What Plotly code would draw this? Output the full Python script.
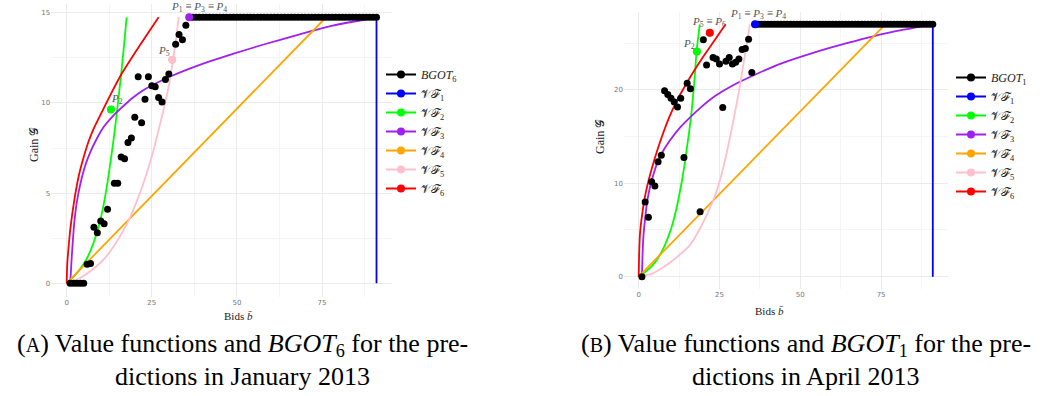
import plotly.graph_objects as go

W, H = 1048, 396

# ---------------- Panel A: January 2013 (BGOT_6) ----------------
a_max = 14.75
a_bgot_x = [1, 2, 3, 4, 5, 6, 7, 8, 9, 10, 11, 12, 13, 14, 15, 16, 17, 18, 19, 20,
            21, 22, 23, 24, 25, 26, 27, 28, 29, 30, 31, 32, 33, 34, 35] + list(range(36, 92))
a_bgot_y = [0, 0, 0, 0, 0, 1.05, 1.1, 3.1, 2.8, 3.45, 3.3, 4.1, 9.63, 5.55, 5.55, 7.0, 6.9, 7.8, 8.05, 9.2,
            11.45, 8.9, 10.2, 11.45, 10.95, 10.9, 10.3, 10.05, 11.3, 11.6, 12.4, 13.25, 13.8, 13.5, 14.3] + [a_max] * 56

a_vf1_x = [91, 91]
a_vf1_y = [0, a_max]
a_vf2_x = [0, 2, 4, 6, 8, 10, 11, 12, 13, 14, 15, 16, 17, 17.6]
a_vf2_y = [0, 0.35, 0.8, 1.4, 2.3, 3.6, 4.5, 5.6, 6.9, 8.3, 9.9, 11.6, 13.5, 14.75]
a_vf3_x = [1.0, 1.2, 1.4, 1.75, 2.2, 2.9, 4, 5.4, 7, 8.8, 11, 13.7, 16.5, 19.5, 22.5, 26.4, 30.3,
           36.1, 42, 48.8, 58.6, 68.4, 78.1, 91]
a_vf3_y = [0, 0.5, 1.2, 2.2, 3.3, 4.4, 5.5, 6.5, 7.3, 8.0, 8.7, 9.3, 9.8, 10.3, 10.7, 11.1, 11.45,
           11.9, 12.3, 12.72, 13.28, 13.8, 14.28, 14.75]
a_vf4_x = [0, 76.2]
a_vf4_y = [0, 14.75]
a_vf5_x = [0, 3.5, 6.8, 10, 12.7, 15.5, 18.1, 21.5, 23.5, 25.4, 27, 28.3, 29.4, 30.3, 31.0, 32.2, 32.9]
a_vf5_y = [0, 0.25, 0.65, 1.15, 1.75, 2.55, 3.45, 5.0, 6.1, 7.3, 8.5, 9.5, 10.4, 11.25, 12.1, 13.65, 14.75]
a_vf6_x = [0, 0.15, 0.5, 1.0, 1.6, 2.4, 3.6, 5, 6.5, 8, 9.8, 13, 16.1, 21.5, 27.0]
a_vf6_y = [0, 1.0, 1.9, 2.9, 3.8, 4.8, 6.0, 7.0, 7.9, 8.6, 9.3, 10.5, 11.6, 13.2, 14.75]

a_pts = [  # (x, y, color, label, label_x, label_y)
    (13, 9.63, "#00FF00", "<i>P</i><sub>2</sub>", 14.9, 10.2),
    (31, 12.4, "#FFC0CB", "<i>P</i><sub>5</sub>", 28.7, 12.9),
    (36, 14.75, "#A020F0", "<i>P</i><sub>1</sub> ≡ <i>P</i><sub>3</sub> ≡ <i>P</i><sub>4</sub>", 39.0, 15.3),
]

# ---------------- Panel B: April 2013 (BGOT_1) ----------------
b_max = 27.0
b_bgot_x = [1, 2, 3, 4, 5, 6, 7, 8, 9, 10, 11, 12, 13, 14, 15, 16, 18, 19, 20,
            21, 22, 23, 24, 25, 26, 27, 28, 29, 30, 31, 32, 33, 34, 35] + list(range(36, 92))
b_bgot_y = [0, 8.0, 6.35, 10.15, 9.7, 12.3, 13.0, 19.9, 19.5, 19.1, 18.7, 18.15, 19.1, 12.75, 20.7, 20.1, 24.1, 6.95, 25.35,
            22.65, 26.1, 23.45, 23.3, 22.75, 18.1, 23.05, 23.45, 22.75, 22.95, 23.3, 24.3, 24.4, 25.4, 21.85] + [b_max] * 56

b_vf1_x = [91, 91]
b_vf1_y = [0, b_max]
b_vf2_x = [0, 2, 4, 6, 8, 10, 11, 12, 13.3, 14.2, 15, 15.8, 16.4, 17, 17.4, 17.9, 18.4, 18.9]
b_vf2_y = [0, 0.5, 1.1, 2.0, 3.3, 5.1, 6.3, 7.8, 10.1, 12.0, 14.0, 16.0, 17.8, 20.0, 21.7, 24.1, 25.6, 27.0]
b_vf3_x = [1.0, 1.2, 1.5, 1.95, 2.6, 3.5, 4.7, 6.1, 7.8, 9.7, 12.5, 15.9, 19.5, 23.1, 27, 31.3, 37.5,
           44, 54, 64.4, 72.6, 82, 91]
b_vf3_y = [0, 2.5, 4.5, 6.1, 8.0, 9.6, 11.1, 12.5, 13.6, 14.6, 15.85, 17.05, 18.2, 19.2, 20.05, 20.85, 21.85,
           22.8, 23.95, 24.98, 25.72, 26.42, 27.0]
b_vf4_x = [0, 76.3]
b_vf4_y = [0, 27.0]
b_vf5_x = [0, 4, 7.6, 11.5, 15.9, 19.5, 23.1, 25.3, 27.2, 28.9, 30.3, 31.5, 32.4, 33.5, 34.4]
b_vf5_y = [0, 0.3, 1.0, 2.0, 3.4, 5.5, 8.2, 10.5, 13.2, 16, 18.5, 20.8, 22.8, 25, 27.0]
b_vf6_x = [0, 0.1, 0.4, 1.0, 1.95, 3, 4.5, 6, 7.6, 9.5, 11.8, 14.5, 17, 20, 23, 26.9]
b_vf6_y = [0, 2.0, 4.6, 6.5, 8.6, 10.2, 12.1, 13.8, 15.4, 17.1, 18.8, 20.5, 21.95, 23.55, 25.05, 27.0]

b_pts = [
    (18, 24.1, "#00FF00", "<i>P</i><sub>2</sub>", 15.6, 24.85),
    (22, 26.1, "#FF0000", "<i>P</i><sub>5</sub> ≡ <i>P</i><sub>6</sub>", 21.9, 27.3),
    (36, 27.0, "#0000FF", "<i>P</i><sub>1</sub> ≡ <i>P</i><sub>3</sub> ≡ <i>P</i><sub>4</sub>", 36.8, 28.1),
]

vf_colors = ["#0000FF", "#00FF00", "#A020F0", "#FFA500", "#FFC0CB", "#FF0000"]
vf_names = ["𝒱ℱ<sub>%d</sub>" % i for i in range(1, 7)]

SERIF = "Liberation Serif"

fig = go.Figure()


def add_panel(xa, ya, legend, bgot_x, bgot_y, vfs, pts, bgot_name):
    for (vx, vy), col in zip(vfs, vf_colors):
        fig.add_trace(go.Scatter(x=vx, y=vy, mode="lines", line=dict(color=col, width=1.8, shape="spline", smoothing=0.5),
                                 showlegend=False, xaxis=xa, yaxis=ya, hoverinfo="skip"))
    fig.add_trace(go.Scatter(x=bgot_x, y=bgot_y, mode="markers", marker=dict(color="black", size=7),
                             showlegend=False, xaxis=xa, yaxis=ya))
    for (px, py, col, lab, lx, ly) in pts:
        fig.add_trace(go.Scatter(x=[px], y=[py], mode="markers", marker=dict(color=col, size=8),
                                 showlegend=False, xaxis=xa, yaxis=ya))
        fig.add_annotation(x=lx, y=ly, xref=xa, yref=ya, text=lab, showarrow=False,
                           font=dict(family=SERIF, size=11, color="#555555"))
    # legend entries
    fig.add_trace(go.Scatter(x=[None], y=[None], mode="lines+markers", name=bgot_name,
                             line=dict(color="black", width=2), marker=dict(color="black", size=8),
                             legend=legend, xaxis=xa, yaxis=ya))
    for col, nm in zip(vf_colors, vf_names):
        fig.add_trace(go.Scatter(x=[None], y=[None], mode="lines+markers", name=nm,
                                 line=dict(color=col, width=2), marker=dict(color=col, size=8),
                                 legend=legend, xaxis=xa, yaxis=ya))


add_panel("x", "y", "legend", a_bgot_x, a_bgot_y,
          [(a_vf1_x, a_vf1_y), (a_vf2_x, a_vf2_y), (a_vf3_x, a_vf3_y), (a_vf4_x, a_vf4_y),
           (a_vf5_x, a_vf5_y), (a_vf6_x, a_vf6_y)], a_pts, "<i>BGOT</i><sub>6</sub>")
add_panel("x2", "y2", "legend2", b_bgot_x, b_bgot_y,
          [(b_vf1_x, b_vf1_y), (b_vf2_x, b_vf2_y), (b_vf3_x, b_vf3_y), (b_vf4_x, b_vf4_y),
           (b_vf5_x, b_vf5_y), (b_vf6_x, b_vf6_y)], b_pts, "<i>BGOT</i><sub>1</sub>")

grid_major = "#ebebeb"
grid_minor = "#f5f5f5"
tickfont = dict(family="DejaVu Sans", size=7, color="#777777")


def xax(domain, anchor):
    return dict(domain=domain, anchor=anchor, range=[-4.55, 95.55], tickvals=[0, 25, 50, 75],
                showgrid=True, gridcolor=grid_major, gridwidth=1, zeroline=False, showline=False,
                ticks="", tickfont=tickfont,
                minor=dict(tickvals=[12.5, 37.5, 62.5, 87.5], showgrid=True, gridcolor=grid_minor, gridwidth=1))


def yax(domain, anchor, rng, tv, mv):
    return dict(domain=domain, anchor=anchor, range=rng, tickvals=tv,
                showgrid=True, gridcolor=grid_major, gridwidth=1, zeroline=False, showline=False,
                ticks="", tickfont=tickfont,
                minor=dict(tickvals=mv, showgrid=True, gridcolor=grid_minor, gridwidth=1))


fig.update_layout(
    width=W, height=H, margin=dict(l=0, r=0, t=0, b=0),
    paper_bgcolor="white", plot_bgcolor="white",
    xaxis=xax([51.2 / W, 392 / W], "y"),
    yaxis=yax([1 - 296.6 / H, 1 - 3.9 / H], "x", [-0.74, 15.49], [0, 5, 10, 15], [2.5, 7.5, 12.5]),
    xaxis2=xax([624 / W, 947.5 / W], "y2"),
    yaxis2=yax([1 - 289.3 / H, 1 - 11.7 / H], "x2", [-1.35, 28.35], [0, 10, 20], [5, 15, 25]),
    legend=dict(x=381 / W, y=1 - 60 / H, xanchor="left", yanchor="top", bgcolor="rgba(0,0,0,0)",
                font=dict(family=SERIF, size=12, color="#222222"), tracegroupgap=0),
    legend2=dict(x=951 / W, y=1 - 63 / H, xanchor="left", yanchor="top", bgcolor="rgba(0,0,0,0)",
                 font=dict(family=SERIF, size=12, color="#222222"), tracegroupgap=0),
    showlegend=True,
)

# axis titles
axis_font = dict(family=SERIF, size=12, color="#222222")
fig.add_annotation(x=25 / W, y=1 - 145 / H, xref="paper", yref="paper", text="Gain 𝒢", textangle=-90,
                   showarrow=False, font=axis_font)
fig.add_annotation(x=600 / W, y=1 - 137 / H, xref="paper", yref="paper", text="Gain 𝒢", textangle=-90,
                   showarrow=False, font=axis_font)
fig.add_annotation(x=221.6 / W, y=1 - 324 / H, xref="paper", yref="paper", text="Bids <i>b̄</i>",
                   showarrow=False, font=dict(family=SERIF, size=11, color="#222222"))
fig.add_annotation(x=785.7 / W, y=1 - 319 / H, xref="paper", yref="paper", text="Bids <i>b̄</i>",
                   showarrow=False, font=dict(family=SERIF, size=11, color="#222222"))

# captions
cap_font = dict(family=SERIF, size=26, color="black")
captions = [
    (242, 345, "(<span style='font-size:20px'>A</span>) Value functions and <i>BGOT</i><sub>6</sub> for the pre-"),
    (242, 376.5, "dictions in January 2013"),
    (806, 345, "(<span style='font-size:20px'>B</span>) Value functions and <i>BGOT</i><sub>1</sub> for the pre-"),
    (806, 376.5, "dictions in April 2013"),
]
for cx, cy, txt in captions:
    fig.add_annotation(x=cx / W, y=1 - cy / H, xref="paper", yref="paper", text=txt, showarrow=False,
                       font=cap_font, xanchor="center", yanchor="middle")

fig.write_html("out.html")
